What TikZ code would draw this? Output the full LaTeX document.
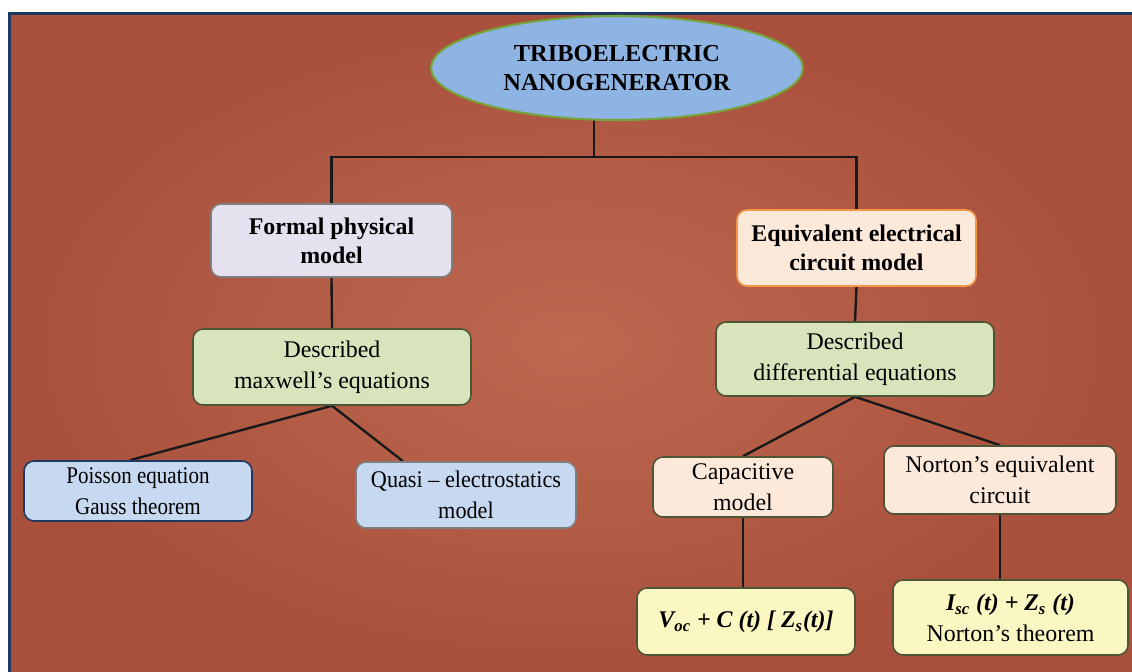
\documentclass[tikz,border=0pt]{standalone}
\usepackage{fontspec}
\setmainfont{Liberation Serif}
\newfontfamily\condA[FakeStretch=0.88,Ligatures=TeX]{Liberation Serif}
\newfontfamily\condB[FakeStretch=0.93,Ligatures=TeX]{Liberation Serif}
\usetikzlibrary{shapes.geometric,calc}
\definecolor{bgin}{RGB}{190,104,80}
\definecolor{bgout}{RGB}{168,80,60}
\definecolor{navy}{RGB}{31,56,95}
\definecolor{ellfill}{RGB}{142,180,227}
\definecolor{ellline}{RGB}{119,163,59}
\definecolor{lav}{RGB}{230,225,238}
\definecolor{greyline}{RGB}{127,127,127}
\definecolor{greenfill}{RGB}{216,228,188}
\definecolor{oliveline}{RGB}{77,85,53}
\definecolor{bluefill}{RGB}{198,217,240}
\definecolor{darknavy}{RGB}{31,56,100}
\definecolor{peach}{RGB}{253,233,217}
\definecolor{orangeline}{RGB}{247,150,70}
\definecolor{yel}{RGB}{250,247,195}
\pgfdeclarelayer{back}
\pgfdeclarelayer{lines}
\pgfsetlayers{back,lines,main}
\tikzset{
  box/.style={rectangle, rounded corners=0.2cm, line width=0.9pt, align=center, inner sep=2pt,
    font=\fontsize{13.6}{17.5}\selectfont, text=black},
  boldbox/.style={box, font=\fontsize{13.6}{16.5}\selectfont\bfseries},
  conn/.style={draw=black!90, line width=1.35pt},
}
\begin{document}
\begin{tikzpicture}[x=0.02cm,y=-0.02cm]
\useasboundingbox (0,0) rectangle (1132,672);
\begin{pgfonlayer}{back}
  \fill[white] (0,0) rectangle (1132,672);
  \shade[inner color=bgin, outer color=bgout] (9.5,13.5) rectangle (1132,672);
  \draw[navy, line width=1.8pt] (9.5,680) -- (9.5,13.5) -- (1140,13.5);
\end{pgfonlayer}

\node[ellipse, draw=ellline, line width=1.2pt, fill=ellfill, minimum width=7.44cm, minimum height=2.08cm,
  align=center, font=\fontsize{13.9}{16.2}\selectfont\bfseries] (tng) at (617,68) {TRIBOELECTRIC\\NANOGENERATOR};

\node[boldbox, draw=greyline, fill=lav, minimum width=4.82cm, minimum height=1.46cm] (fpm) at (331.5,240.5) {Formal physical\\model};
\node[box, draw=oliveline, fill=greenfill, minimum width=5.56cm, minimum height=1.52cm] (max) at (332,367) {Described\\maxwell's equations};
\node[box, draw=darknavy, fill=bluefill, minimum width=4.56cm, minimum height=1.2cm,
  font=\fontsize{13.6}{17.5}\selectfont\condA] (poi) at (138,491) {Poisson equation\\Gauss theorem};
\node[box, draw=greyline, fill=bluefill, minimum width=4.4cm, minimum height=1.32cm,
  font=\fontsize{13.6}{17.5}\selectfont\condB] (qua) at (466,495) {Quasi – electrostatics\\model};

\node[boldbox, draw=orangeline, fill=peach, minimum width=4.78cm, minimum height=1.52cm] (eec) at (856.5,248) {Equivalent electrical\\circuit model};
\node[box, draw=oliveline, fill=greenfill, minimum width=5.56cm, minimum height=1.48cm] (dif) at (855,359) {Described\\differential equations};
\node[box, draw=oliveline, fill=peach, minimum width=3.6cm, minimum height=1.2cm] (cap) at (743,487) {Capacitive\\model};
\node[box, draw=oliveline, fill=peach, minimum width=4.64cm, minimum height=1.36cm] (nor) at (1000,480) {Norton's equivalent\\circuit};
\node[box, draw=oliveline, fill=yel, minimum width=4.36cm, minimum height=1.34cm] (voc) at (746,621.5)
  {\textbf{\textit{V\textsubscript{oc} + C (t) [ Z\textsubscript{s}(t)]}}};
\node[box, draw=oliveline, fill=yel, minimum width=4.7cm, minimum height=1.5cm] (isc) at (1010.5,617.5)
  {\textbf{\textit{I\textsubscript{sc} (t) + Z\textsubscript{s} (t)}}\\Norton's theorem};

\coordinate (stem) at (594,157);
\begin{pgfonlayer}{lines}
  \draw[conn] (tng.center -| stem) -- (stem);
  \draw[conn] (fpm.north) |- (stem) -| (eec.north);
  \draw[conn] (fpm.south) -- (max.north);
  \draw[conn] ([xshift=-0.16cm]poi.north) -- (max.south) -- ([xshift=-1.26cm]qua.north);
  \draw[conn] (eec.south) -- (dif.north);
  \draw[conn] (cap.north) -- (dif.south) -- (nor.north);
  \draw[conn] (cap.south) -- (cap.south |- voc.north);
  \draw[conn] (nor.south) -- (nor.south |- isc.north);
\end{pgfonlayer}
\end{tikzpicture}
\end{document}
